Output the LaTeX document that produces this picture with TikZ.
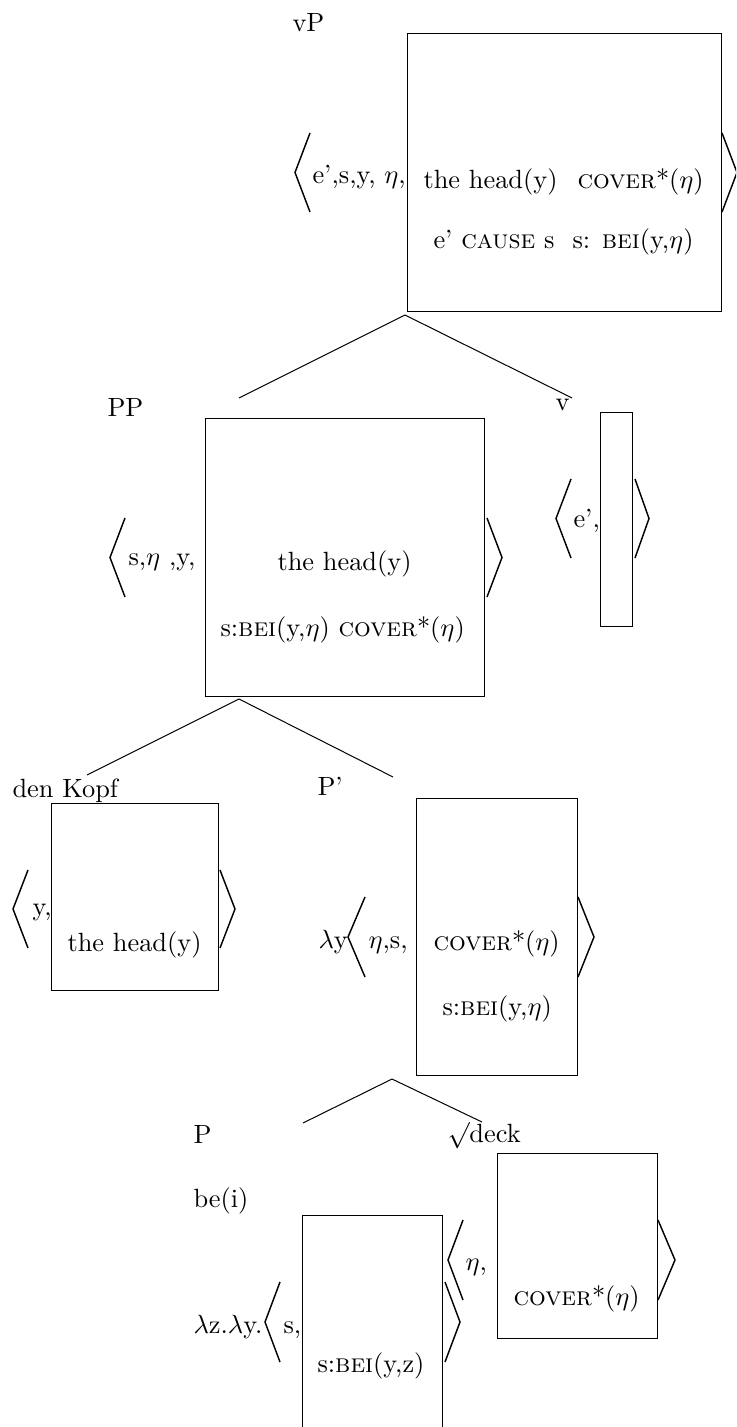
\documentclass[tikz,border=0pt]{standalone}
\usetikzlibrary{fit}
\begin{document}
\begin{tikzpicture}[x=0.3794pt,y=-0.3794pt,
  box/.style={draw,inner sep=0pt,line width=0.33pt},
  txt/.style={inner sep=0pt,anchor=base west},
  brk/.style={line width=0.55pt,line join=miter},
  edge/.style={line width=0.38pt}]
\useasboundingbox (0,0) rectangle (736,1427);
\clip (0,0) rectangle (736,1427);

% ---------- vP ----------
\node[txt] (vPlab) at (292,32) {vP};
\node[box,fit={(407,33) (721,311)}] (vPbox) {};
\draw[brk] (310,133) -- (295,172.5) -- (310,212);
\node[txt] (vParg) at (312,184) {e',s,y, $\eta$,};
\node[txt] (vPa) at (423,189) {the head(y)};
\node[txt] (vPb) at (577,189) {\textsc{cover}*($\eta$)};
\node[txt] (vPc) at (433,249) {e' \textsc{cause} s};
\node[txt] (vPd) at (572,249) {s: \textsc{bei}(y,$\eta$)};
\draw[brk] (722,133) -- (737,172.5) -- (722,212);
\coordinate (vPapex) at (405,315);
\coordinate (vPl) at (239,398);
\coordinate (vPr) at (572,398);
\draw[edge] (vPapex) -- (vPl);
\draw[edge] (vPapex) -- (vPr);

% ---------- PP ----------
\node[txt] (PPlab) at (107,417) {PP};
\node[box,fit={(205,418) (484,696)}] (PPbox) {};
\draw[brk] (125,518) -- (110,557.5) -- (125,597);
\node[txt] (PParg) at (128,565) {s,$\eta$ ,y,};
\node[txt] (PPa) at (277,570) {the head(y)};
\node[txt] (PPb) at (220,636) {s:\textsc{bei}(y,$\eta$) \textsc{cover}*($\eta$)};
\draw[brk] (487,518) -- (502,557.5) -- (487,597);
\coordinate (PPapex) at (239,699);
\coordinate (PPl) at (87,775);
\coordinate (PPr) at (393,777);
\draw[edge] (PPapex) -- (PPl);
\draw[edge] (PPapex) -- (PPr);

% ---------- v ----------
\node[txt] (vlab) at (555,410) {v};
\node[box,fit={(600,412) (632,626)}] (vbox) {};
\draw[brk] (571,479) -- (556,518.5) -- (571,558);
\node[txt] (varg) at (573,527) {e',};
\draw[brk] (635,479) -- (649,518.5) -- (635,558);

% ---------- den Kopf ----------
\node[txt] (DKlab) at (12,797) {den Kopf};
\node[box,fit={(51,803) (218,990)}] (DKbox) {};
\draw[brk] (28,870) -- (13,909) -- (28,948);
\node[txt] (DKarg) at (32,915) {y,};
\node[txt] (DKa) at (67,951) {the head(y)};
\draw[brk] (220,870) -- (235,909) -- (220,948);

% ---------- P' ----------
\node[txt] (Pblab) at (317,795) {P'};
\node[box,fit={(416,798) (577,1075)}] (Pbbox) {};
\node[txt] (Pblam) at (318,948) {$\lambda$y};
\draw[brk] (365,897) -- (348,937) -- (365,977);
\node[txt] (Pbarg) at (368,948) {$\eta$,s,};
\node[txt] (Pba) at (433,950) {\textsc{cover}*($\eta$)};
\node[txt] (Pbb) at (442,1015) {s:\textsc{bei}(y,$\eta$)};
\draw[brk] (578,897) -- (594,937) -- (578,977);
\coordinate (Pbapex) at (392,1079);
\coordinate (Pbl) at (303,1123);
\coordinate (Pbr) at (482,1122);
\draw[edge] (Pbapex) -- (Pbl);
\draw[edge] (Pbapex) -- (Pbr);

% ---------- P ----------
\node[txt] (Plab) at (193,1143) {P};
\node[txt] (Pbe) at (193,1207) {be(i)};
\node[txt] (Plam) at (193,1333) {$\lambda$z.$\lambda$y.};
\draw[brk] (280,1282) -- (265,1322) -- (280,1362);
\node[txt] (Parg) at (283,1333) {s,};
\node[box,fit={(302,1215) (442,1445)}] (Pbox) {};
\node[txt] (Pa) at (317,1372) {s:\textsc{bei}(y,z)};
\draw[brk] (445,1282) -- (460,1322) -- (445,1362);

% ---------- deck ----------
\node[txt] (Dlab) at (447,1142) {$\surd$deck};
\draw[brk] (463,1220) -- (448,1260) -- (463,1300);
\node[txt] (Darg) at (465,1270) {$\eta$,};
\node[box,fit={(497,1153) (657,1338)}] (Dbox) {};
\node[txt] (Da) at (513,1305) {\textsc{cover}*($\eta$)};
\draw[brk] (658,1220) -- (675,1260) -- (658,1300);
\end{tikzpicture}
\end{document}
